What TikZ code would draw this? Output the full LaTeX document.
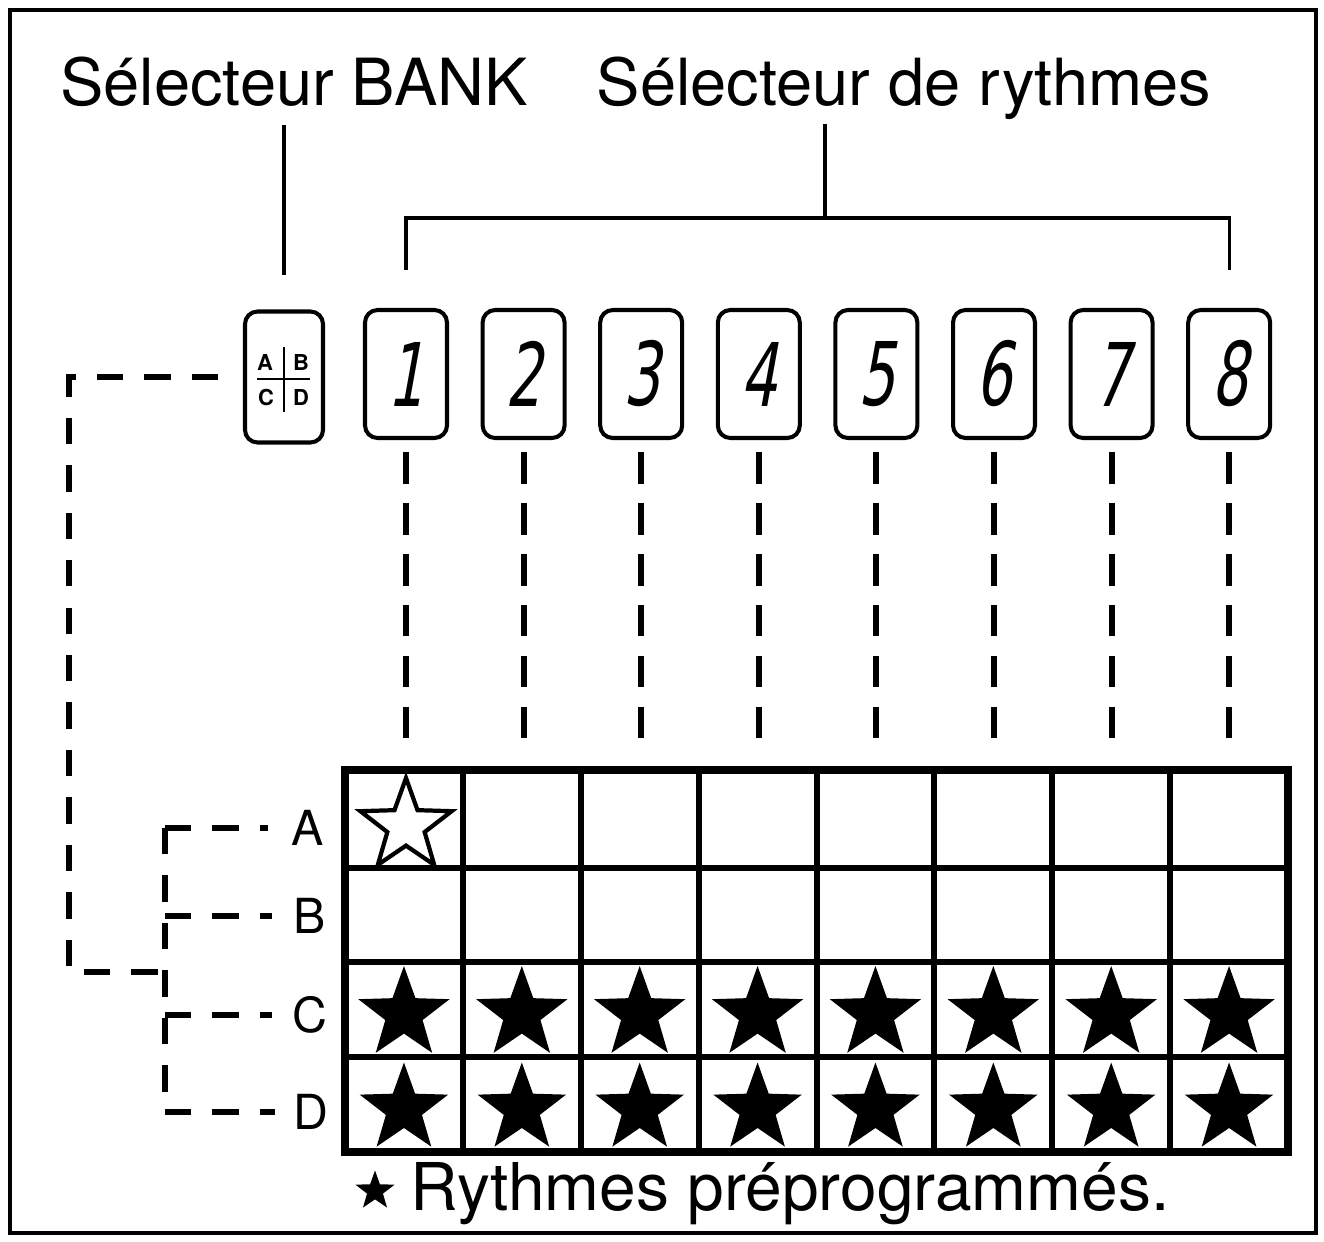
\documentclass[tikz,border=0pt]{standalone}
\usepackage{fontspec}
\setmainfont{TeX Gyre Heros}
\newfontfamily\digitfont{DejaVu Sans}[FakeSlant=0.18,FakeStretch=0.65]
\usetikzlibrary{shapes.geometric}

\begin{document}
\begin{tikzpicture}[x=0.02cm,y=-0.02cm,
  outerframe/.style={line width=2.3pt},
  leader/.style={line width=1.8pt},
  keyline/.style={line width=3.4pt,dash pattern=on 18pt off 11pt},
  treeline/.style={line width=3.4pt,dash pattern=on 15pt off 12pt},
  gridline/.style={line width=3.4pt},
  padkey/.style={draw,line width=2.3pt,rounded corners=0.25cm,minimum width=1.64cm,minimum height=2.56cm,inner sep=0pt},
  heading/.style={font=\fontsize{37}{40}\selectfont,inner sep=0pt,anchor=base},
  rowletter/.style={font=\fontsize{27.5}{30}\selectfont,inner sep=0pt},
  padletter/.style={font=\bfseries\fontsize{12.5}{12}\selectfont,inner sep=0pt},
  rythm/.style={star,star points=5,star point ratio=2.45,minimum size=1.92cm,inner sep=0pt,line width=2.4pt}]
\useasboundingbox (0,0) rectangle (1324,1241);
\draw[outerframe] (10,10) rectangle (1316,1233);

% titles
\node[heading] (bankhead) at (294,105) {Sélecteur BANK};
\node[heading] (rythmhead) at (904,105) {Sélecteur de rythmes};

% bank button
\node[padkey,minimum width=1.56cm,minimum height=2.62cm] (bank) at (284,377) {};
\draw[line width=1.3pt] ([shift={(0,-30)}]bank.center) -- ([shift={(0,35)}]bank.center);
\draw[line width=1.3pt] ([shift={(-27,2)}]bank.center) -- ([shift={(26,2)}]bank.center);
\node[padletter] (bankA) at ([shift={(-19,-15)}]bank.center) {A};
\node[padletter] (bankB) at ([shift={(17,-15)}]bank.center) {B};
\node[padletter] (bankC) at ([shift={(-18,20)}]bank.center) {C};
\node[padletter] (bankD) at ([shift={(17,20)}]bank.center) {D};

% rhythm buttons
\foreach \i in {1,...,8}
  \node[padkey,font=\digitfont\fontsize{50}{50}\selectfont] (b\i) at ({406+117.6*(\i-1)},374) {\i};

% leaders
\coordinate (brk) at (825,218);
\draw[leader] (bank.north |- bankhead.south) ++(0,18) -- ([yshift=0.7cm]bank.north);
\draw[leader] (brk |- rythmhead.south) ++(0,4) -- (brk);
\draw[leader] ([yshift=0.76cm]b1.north) |- (brk) -| ([yshift=0.76cm]b8.north);

% grid
\coordinate (gNW) at (345,770);
\coordinate (gSE) at (1288,1152);
\draw[gridline,line width=4.5pt] (gNW) rectangle (gSE);
\foreach \k in {1,...,7}
  \draw[gridline] ({345+117.875*\k},770) -- ({345+117.875*\k},1152);
\foreach \r in {868,962,1057}
  \draw[gridline] (345,\r) -- (1288,\r);

\foreach \i in {1,...,8}
  \draw[keyline,shorten <=0.24cm,shorten >=0.32cm] (b\i.south) -- (b\i.south |- gNW);

% stars
\node[rythm,draw] (sA1) at (406,826) {};
\foreach \c in {1,...,8} {
  \node[rythm,fill] (sC\c) at ({345+117.875*(\c-0.5)},1014) {};
  \node[rythm,fill,minimum size=1.86cm] (sD\c) at ({345+117.875*(\c-0.5)},1109) {};
}

% bank rows
\node[rowletter] (A) at (308,828) {A};
\node[rowletter] (B) at (310,916) {B};
\node[rowletter] (C) at (310,1015) {C};
\node[rowletter] (D) at (311,1112) {D};
\coordinate (tree) at (165,0);
\coordinate (join) at (165,972);
\coordinate (loopL) at (69,0);
\draw[treeline] (tree |- A.west) -- ([xshift=-0.48cm]A.west);
\draw[treeline] (tree |- B.west) -- ([xshift=-0.44cm]B.west);
\draw[treeline] (tree |- C.west) -- ([xshift=-0.4cm]C.west);
\draw[treeline] (tree |- D.west) -- ([xshift=-0.36cm]D.west);
\draw[treeline] (tree |- A.west) -- (tree |- D.west);
\draw[treeline] ([xshift=-0.5cm]bank.west) -| (loopL |- join) -- (join);

% note
\node[rythm,fill,minimum size=0.82cm] (keystar) at (375,1191) {};
\node[heading,anchor=base west,font=\fontsize{37.5}{40}\selectfont] (note) at (410,1210) {Rythmes préprogrammés.};
\end{tikzpicture}
\end{document}
